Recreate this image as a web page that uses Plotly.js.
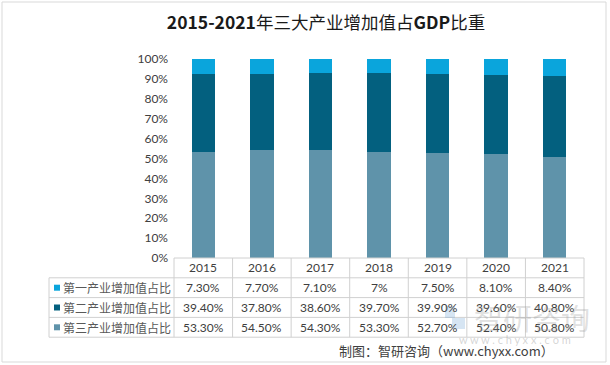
<!DOCTYPE html>
<html>
<head>
<meta charset="utf-8">
<script src="https://cdn.plot.ly/plotly-3.0.1.min.js"></script>
<style>html,body{margin:0;padding:0;background:#fff;}#chart{width:610px;height:365px;}</style>
</head>
<body>
<div id="chart"></div>
<script>
// ---- data ----
var years = ['2015', '2016', '2017', '2018', '2019', '2020', '2021'];
var seriesNames = ['第一产业增加值占比', '第二产业增加值占比', '第三产业增加值占比'];
var primary   = [7.3, 7.7, 7.1, 7.0, 7.5, 8.1, 8.4];
var secondary = [39.4, 37.8, 38.6, 39.7, 39.9, 39.6, 40.8];
var tertiary  = [53.3, 54.5, 54.3, 53.3, 52.7, 52.4, 50.8];
var seriesColors = ['#0aa5dc', '#03607f', '#5f93aa'];
var titleText = '<b>2015-2021</b>年三大产业增加值占<b>GDP</b>比重';
var sourceText = '制图：智研咨询（www.chyxx.com）';

// ---- geometry helpers (layout) ----
var W = 610, H = 365;
var mL = 174, mR = 26, mT = 59, mB = 107;
var pw = W - mL - mR, ph = H - mT - mB;
function px(X) { return (X - mL) / pw; }
function py(Y) { return (H - mB - Y) / ph; }
var rowH = 19.8;
var tableTop = H - mB;          // 258
var leftEdge = 49;
var lineColor = '#d0d0d0';
var latin = 'Lato, "Noto Sans CJK SC", sans-serif';
var cjk = '"Noto Sans CJK SC", sans-serif';
var txtColor = '#404040';

function fmt(v) { return (Number.isInteger(v) ? v : v.toFixed(2)) + '%'; }

var seriesVals = [primary, secondary, tertiary];

// bars: bottom = tertiary, middle = secondary, top = primary
var traces = [2, 1, 0].map(function (k) {
  return {
    type: 'bar', x: years, y: seriesVals[k], name: seriesNames[k],
    marker: { color: seriesColors[k], line: { width: 0 } },
    hoverinfo: 'skip'
  };
});

var shapes = [];
var annotations = [];
// horizontal table lines
var n = years.length;
for (var r = 0; r <= 4; r++) {
  var Y = tableTop + r * rowH;
  shapes.push({ type: 'line', xref: 'paper', yref: 'paper',
    x0: r === 0 ? 0 : px(leftEdge), x1: 1, y0: py(Y), y1: py(Y),
    line: { color: lineColor, width: 1 } });
}
// vertical lines
for (var c = 0; c <= n; c++) {
  shapes.push({ type: 'line', xref: 'paper', yref: 'paper',
    x0: c / n, x1: c / n, y0: py(tableTop), y1: py(tableTop + 4 * rowH),
    line: { color: lineColor, width: 1 } });
}
shapes.push({ type: 'line', xref: 'paper', yref: 'paper',
  x0: px(leftEdge), x1: px(leftEdge), y0: py(tableTop + rowH), y1: py(tableTop + 4 * rowH),
  line: { color: lineColor, width: 1 } });

// year header (category axis: x is the category index)
years.forEach(function (yr, i) {
  annotations.push({ xref: 'x', yref: 'paper', x: i, y: py(tableTop + rowH / 2),
    text: yr, showarrow: false, xanchor: 'center', yanchor: 'middle',
    font: { family: latin, size: 12, color: txtColor } });
});
// rows
seriesNames.forEach(function (name, k) {
  var yc = tableTop + (k + 1.5) * rowH;
  shapes.push({ type: 'rect', xref: 'paper', yref: 'paper',
    x0: px(54), x1: px(60), y0: py(yc + 3), y1: py(yc - 3),
    fillcolor: seriesColors[k], line: { width: 0 } });
  annotations.push({ xref: 'paper', yref: 'paper', x: px(61.5), y: py(yc),
    text: name, showarrow: false, xanchor: 'left', yanchor: 'middle',
    font: { family: cjk, size: 12, color: '#595959' } });
  seriesVals[k].forEach(function (v, i) {
    annotations.push({ xref: 'x', yref: 'paper', x: i, y: py(yc),
      text: fmt(v), showarrow: false, xanchor: 'center', yanchor: 'middle',
      font: { family: latin, size: 12, color: txtColor } });
  });
});

// watermark
shapes.push({ type: 'rect', xref: 'paper', yref: 'paper',
  x0: px(445), x1: px(455), y0: py(318), y1: py(306),
  fillcolor: 'rgba(120,170,215,0.3)', line: { width: 0 } });
shapes.push({ type: 'rect', xref: 'paper', yref: 'paper',
  x0: px(452), x1: px(465), y0: py(329), y1: py(318),
  fillcolor: 'rgba(120,170,215,0.3)', line: { width: 0 } });
annotations.push({ xref: 'paper', yref: 'paper', x: px(532), y: py(317),
  text: '智研咨询', showarrow: false, xanchor: 'center', yanchor: 'middle',
  font: { family: cjk, size: 29, color: 'rgba(150,150,150,0.3)' } });
annotations.push({ xref: 'paper', yref: 'paper', x: px(515), y: py(339),
  text: 'w w w . c h y x x . c o m', showarrow: false, xanchor: 'center', yanchor: 'middle',
  font: { family: latin, size: 11, color: 'rgba(150,150,150,0.4)' } });

// source
annotations.push({ xref: 'paper', yref: 'paper', x: px(556), y: py(350),
  text: sourceText, showarrow: false, xanchor: 'right', yanchor: 'middle',
  font: { family: cjk, size: 13, color: txtColor } });

// outer border
shapes.push({ type: 'rect', xref: 'paper', yref: 'paper',
  x0: px(2), x1: px(606), y0: py(2), y1: py(362),
  line: { color: '#d9d9d9', width: 1 }, fillcolor: 'rgba(0,0,0,0)' });

var layout = {
  width: W, height: H,
  margin: { l: mL, r: mR, t: mT, b: mB, pad: 0 },
  paper_bgcolor: '#ffffff', plot_bgcolor: '#ffffff',
  barmode: 'stack', barnorm: 'percent', bargap: 0.6,
  showlegend: false, hovermode: false,
  title: { text: titleText, x: 326 / W, xanchor: 'center', y: 1 - 23 / H, yanchor: 'middle',
    font: { family: cjk, size: 17.5, color: '#1a1a1a' } },
  xaxis: { type: 'category', showticklabels: false, ticks: '', showgrid: false,
    zeroline: false, showline: false, range: [-0.5, 6.5], fixedrange: true },
  yaxis: { range: [0, 100], dtick: 10, ticksuffix: '%', ticks: '', showgrid: false,
    zeroline: false, showline: false, ticklabelstandoff: 5,
    tickfont: { family: latin, size: 12, color: '#404040' }, fixedrange: true },
  shapes: shapes, annotations: annotations
};

Plotly.newPlot('chart', traces, layout, { staticPlot: true, displayModeBar: false });
</script>
</body>
</html>
